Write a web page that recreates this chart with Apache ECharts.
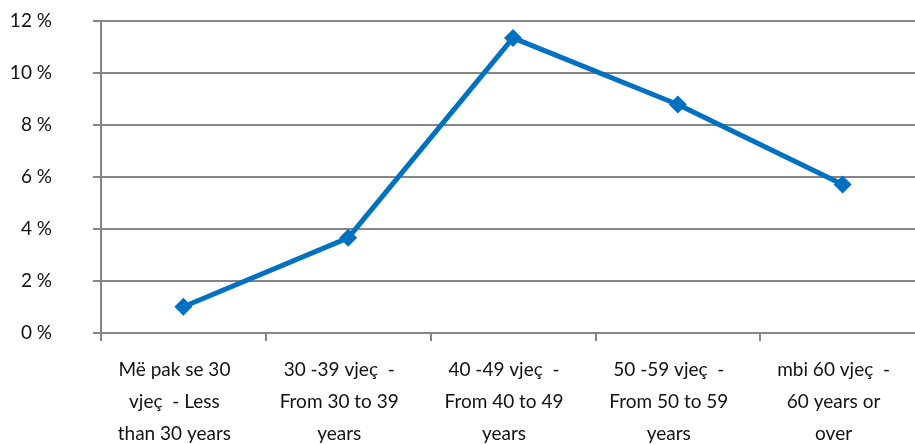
<!DOCTYPE html>
<html>
<head>
<meta charset="utf-8">
<script src="https://cdn.jsdelivr.net/npm/echarts@6/dist/echarts.min.js"></script>
<style>
html,body{margin:0;padding:0;background:#fff;}
#chart{width:915px;height:444px;}
</style>
</head>
<body>
<div id="chart"></div>
<script>
var categories = [
  "Më pak se 30\nvjeç  - Less\nthan 30 years",
  "30 -39 vjeç  -\nFrom 30 to 39\nyears",
  "40 -49 vjeç  -\nFrom 40 to 49\nyears",
  "50 -59 vjeç  -\nFrom 50 to 59\nyears",
  "mbi 60 vjeç  -\n60 years or\nover"
];
var values = [1.01, 3.66, 11.35, 8.79, 5.71];
var yTicks = [0, 2, 4, 6, 8, 10, 12];

var chart = echarts.init(document.getElementById('chart'));
var font = 'Lato, "Open Sans", sans-serif';
chart.setOption({
  animation: false,
  grid: {left: 101, right: -10, top: 21, bottom: 111, containLabel: false, outerBoundsMode: 'none'},
  xAxis: {
    type: 'category',
    data: categories,
    boundaryGap: true,
    axisLine: {show: true, lineStyle: {color: '#868686', width: 2}},
    axisTick: {show: true, length: 8, lineStyle: {color: '#868686', width: 2}},
    axisLabel: {color: '#111', fontFamily: font, fontSize: 19, lineHeight: 32, margin: 21, interval: 0, padding: [0, 18, 0, 0]},
    splitLine: {show: false}
  },
  yAxis: {
    type: 'value',
    min: yTicks[0],
    max: yTicks[yTicks.length - 1],
    interval: 2,
    axisLine: {show: true, lineStyle: {color: '#868686', width: 2}},
    axisTick: {show: true, inside: false, length: 8, lineStyle: {color: '#868686', width: 2}},
    axisLabel: {color: '#111', fontFamily: font, fontSize: 19, margin: 49, formatter: function(v){return v + ' %';}},
    splitLine: {show: true, lineStyle: {color: '#868686', width: 2}}
  },
  series: [{
    type: 'line',
    data: values,
    symbol: 'diamond',
    symbolSize: 18,
    itemStyle: {color: '#0070C0'},
    lineStyle: {color: '#0070C0', width: 5},
    z: 5
  }]
});
</script>
</body>
</html>
